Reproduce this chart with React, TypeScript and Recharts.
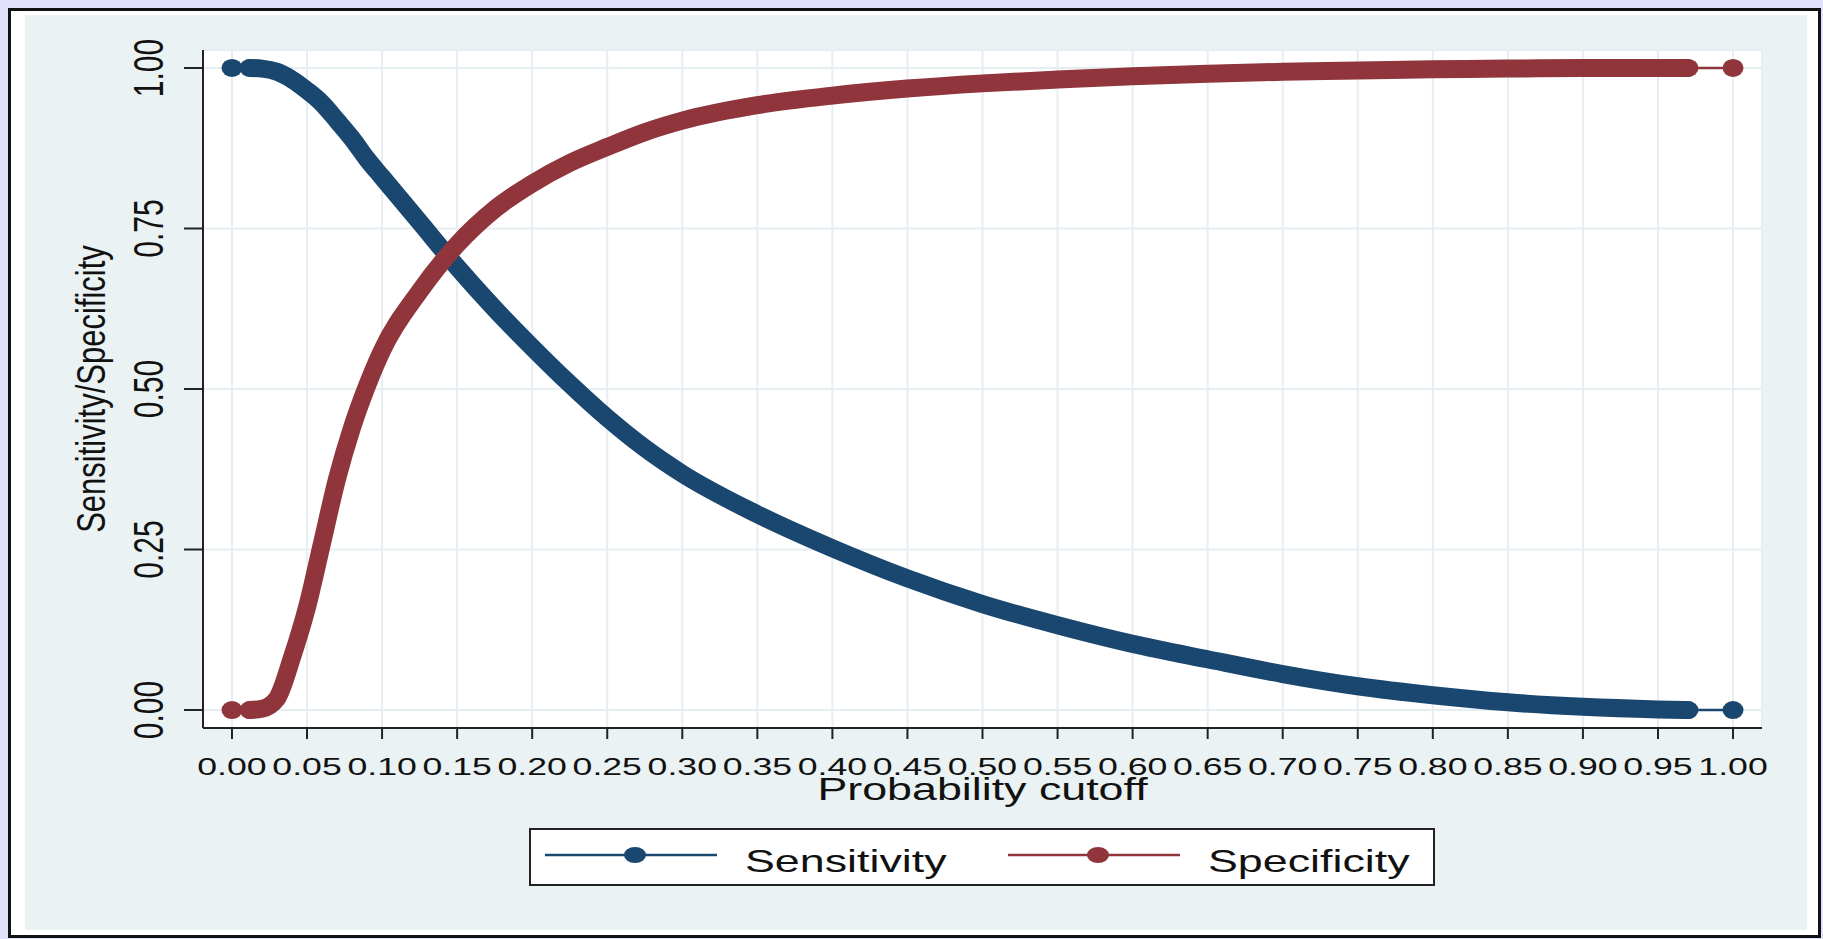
import { LineChart, Line, XAxis, YAxis, CartesianGrid, Legend, Label } from 'recharts'

// probability cutoffs and the two curves
const cutoffs = [
  0, 0.012, 0.02, 0.03, 0.04, 0.05, 0.06, 0.07, 0.08, 0.09, 0.1, 0.125, 0.15, 0.175, 0.2, 0.225,
  0.25, 0.275, 0.3, 0.35, 0.4, 0.45, 0.5, 0.55, 0.6, 0.65, 0.7, 0.75, 0.8, 0.85, 0.9, 0.95, 0.97, 1,
]
const sensitivity = [
  1, 1, 0.999, 0.994, 0.982, 0.965, 0.945, 0.918, 0.89, 0.858, 0.83, 0.76, 0.69, 0.625, 0.565, 0.508,
  0.455, 0.408, 0.368, 0.305, 0.252, 0.205, 0.165, 0.132, 0.103, 0.079, 0.056, 0.037, 0.023, 0.012, 0.005, 0.001, 0, 0,
]
const specificity = [
  0, 0, 0.002, 0.018, 0.082, 0.16, 0.26, 0.36, 0.44, 0.505, 0.56, 0.652, 0.725, 0.78, 0.82, 0.852,
  0.877, 0.9, 0.918, 0.942, 0.957, 0.968, 0.976, 0.982, 0.987, 0.991, 0.994, 0.996, 0.998, 0.999, 1, 1, 1, 1,
]
const xTicks = [
  0, 0.05, 0.1, 0.15, 0.2, 0.25, 0.3, 0.35, 0.4, 0.45, 0.5, 0.55, 0.6, 0.65, 0.7, 0.75, 0.8, 0.85, 0.9, 0.95, 1,
]
const yTicks = [0, 0.25, 0.5, 0.75, 1]
const seriesNames = ['Sensitivity', 'Specificity']

// stata draws a marker at every cutoff, which merges into a thick band
const BAND_FROM = 0.012
const BAND_TO = 0.97

const NAVY = '#1a476f'
const MAROON = '#90353b'
const FONT = '"Liberation Sans", Arial, Helvetica, sans-serif'
const INK = '#111'

const rows = cutoffs.map((c, i) => {
  const inBand = c >= BAND_FROM && c <= BAND_TO
  return {
    cutoff: c,
    sens: sensitivity[i],
    spec: specificity[i],
    sensBand: inBand ? sensitivity[i] : null,
    specBand: inBand ? specificity[i] : null,
  }
})

// only the sparse markers outside the band stand out
const marker = (color: string) => (p: any) => {
  const c = p.payload?.cutoff
  if (c > BAND_FROM && c < BAND_TO) return <g key={`m-${p.index}`} />
  return <ellipse key={`m-${p.index}`} cx={p.cx} cy={p.cy} rx={10.5} ry={9} fill={color} />
}

const XTick = ({ x, y, payload }: any) => (
  <g transform={`translate(${x},${y + 36}) scale(1.55,1)`}>
    <text textAnchor="middle" fontSize={23} fontFamily={FONT} fill={INK}>
      {Number(payload.value).toFixed(2)}
    </text>
  </g>
)

const YTick = ({ x, y, payload }: any) => (
  <g transform={`translate(${x - 21},${y}) scale(1.4,1) rotate(-90)`}>
    <text textAnchor="middle" fontSize={30} fontFamily={FONT} fill={INK}>
      {Number(payload.value).toFixed(2)}
    </text>
  </g>
)

const YTitle = ({ viewBox }: any) => (
  <g transform={`translate(105,${viewBox.y + viewBox.height / 2}) scale(1.3,1) rotate(-90)`}>
    <text textAnchor="middle" fontSize={31} fontFamily={FONT} fill={INK}>Sensitivity/Specificity</text>
  </g>
)

const XTitle = ({ viewBox }: any) => (
  <g transform={`translate(${viewBox.x + viewBox.width / 2},${viewBox.y + 72}) scale(1.4,1)`}>
    <text textAnchor="middle" fontSize={32} fontFamily={FONT} fill={INK}>Probability cutoff</text>
  </g>
)

const LEGEND_W = 906
const LEGEND_H = 58
const legendSlots = [16, 479]

const LegendBox = ({ payload }: any) => {
  const items = (payload || []).filter((p: any) => seriesNames.includes(p.value))
  return (
    <svg width={LEGEND_W} height={LEGEND_H} style={{ display: 'block' }}>
      <rect x={1} y={1} width={LEGEND_W - 2} height={LEGEND_H - 2} fill="#fff" stroke="#222" strokeWidth={2} />
      {items.map((it: any, i: number) => {
        const x0 = legendSlots[i]
        return (
          <g key={it.value}>
            <line x1={x0} x2={x0 + 172} y1={27} y2={27} stroke={it.color} strokeWidth={2.5} />
            <ellipse cx={x0 + 90} cy={27} rx={11} ry={8} fill={it.color} />
            <g transform={`translate(${x0 + 200},44) scale(1.4,1)`}>
              <text fontSize={32} fontFamily={FONT} fill={INK}>{it.value}</text>
            </g>
          </g>
        )
      })}
    </svg>
  )
}

export default function App() {
  return (
    <div style={{ position: 'absolute', left: 0, top: 0, width: 1823, height: 939, background: '#e0e0fa', overflow: 'hidden' }}>
      <div style={{ position: 'absolute', left: 8, top: 8, width: 1813, height: 930, boxSizing: 'border-box', border: '3px solid #111', background: '#fff' }} />
      <div style={{ position: 'absolute', left: 25, top: 15, width: 1782, height: 915, background: '#eaf2f3' }} />
      <div style={{ position: 'absolute', left: 0, top: 0 }}>
        <LineChart
          width={1823}
          height={939}
          data={rows}
          margin={{ top: 50, right: 61, bottom: 151, left: 143 }}
        >
          <CartesianGrid fill="#fff" stroke="#e6eef1" strokeWidth={2} />
          <XAxis
            dataKey="cutoff"
            type="number"
            domain={[-0.0193, 1.0193]}
            ticks={xTicks}
            height={60}
            tickSize={11}
            tickMargin={0}
            tick={<XTick />}
            axisLine={{ stroke: '#222', strokeWidth: 2 }}
            tickLine={{ stroke: '#222', strokeWidth: 2 }}
            interval={0}
          >
            <Label content={<XTitle />} />
          </XAxis>
          <YAxis
            type="number"
            domain={[-0.028, 1.028]}
            ticks={yTicks}
            width={60}
            tickSize={19}
            tickMargin={0}
            tick={<YTick />}
            axisLine={{ stroke: '#222', strokeWidth: 2 }}
            tickLine={{ stroke: '#222', strokeWidth: 2 }}
            interval={0}
          >
            <Label content={<YTitle />} />
          </YAxis>
          <Line type="monotone" dataKey="sensBand" stroke={NAVY} strokeWidth={18} strokeLinecap="round" strokeLinejoin="round"
            dot={false} activeDot={false} legendType="none" isAnimationActive={false} />
          <Line type="monotone" dataKey="sens" name="Sensitivity" stroke={NAVY} strokeWidth={2.5}
            dot={marker(NAVY)} activeDot={false} isAnimationActive={false} />
          <Line type="monotone" dataKey="specBand" stroke={MAROON} strokeWidth={18} strokeLinecap="round" strokeLinejoin="round"
            dot={false} activeDot={false} legendType="none" isAnimationActive={false} />
          <Line type="monotone" dataKey="spec" name="Specificity" stroke={MAROON} strokeWidth={2.5}
            dot={marker(MAROON)} activeDot={false} isAnimationActive={false} />
          <Legend
            layout="horizontal"
            verticalAlign="middle"
            align="center"
            content={<LegendBox />}
            wrapperStyle={{ left: 529, top: 828, width: LEGEND_W, height: LEGEND_H }}
          />
        </LineChart>
      </div>
    </div>
  )
}
